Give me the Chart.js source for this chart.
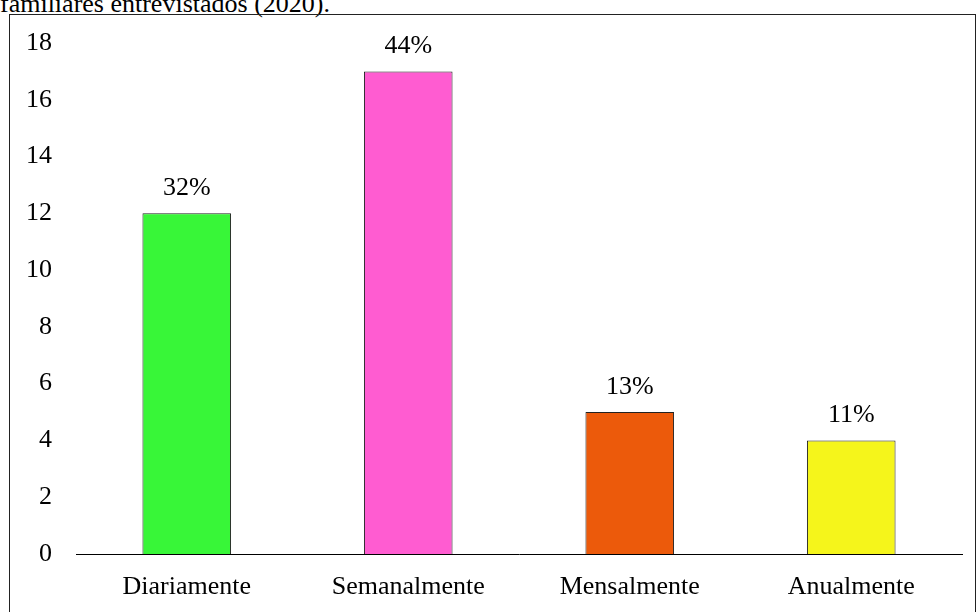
<!DOCTYPE html>
<html>
<head>
<meta charset="utf-8">
<script src="https://cdn.jsdelivr.net/npm/chart.js@4"></script>
<style>
  body { margin: 0; background: #fff; overflow: hidden; }
  #page { position: relative; width: 976px; height: 612px; overflow: hidden; }
  #caption {
    position: absolute; left: 0; top: -11px; line-height: 26px;
    font: 26px "Liberation Serif", serif; color: #000; white-space: nowrap;
  }
  #frame {
    position: absolute; left: 9px; top: 14px; width: 965px; height: 620px;
    border: 1px solid #222;
  }
  #chart { position: absolute; left: 0; top: 0; }
</style>
</head>
<body>
<div id="page">
  <div id="caption">familiares entrevistados (2020).</div>
  <div id="frame"></div>
  <canvas id="chart" width="976" height="612"></canvas>
</div>
<script>
// categorias e valores
const categorias = ['Diariamente', 'Semanalmente', 'Mensalmente', 'Anualmente'];
const valores = [12, 17, 5, 4];
const percentuais = ['32%', '44%', '13%', '11%'];
const cores = ['#38F638', '#FF5CD1', '#EC5A0B', '#F5F51B'];

// rótulos de porcentagem em cima das barras
const rotulos = {
  id: 'rotulos',
  afterDatasetsDraw(chart) {
    const ctx = chart.ctx;
    const meta = chart.getDatasetMeta(0);
    ctx.save();
    ctx.font = '26px "Liberation Serif", serif';
    ctx.fillStyle = '#000';
    ctx.textAlign = 'center';
    ctx.textBaseline = 'alphabetic';
    meta.data.forEach(function (bar, i) {
      ctx.fillText(percentuais[i], bar.x, bar.y - 18);
    });
    ctx.restore();
  }
};

const ctx = document.getElementById('chart').getContext('2d');
new Chart(ctx, {
  type: 'bar',
  data: {
    labels: categorias,
    datasets: [{
      data: valores,
      backgroundColor: cores,
      borderColor: '#222',
      borderWidth: 1,
      barPercentage: 0.4,
      categoryPercentage: 1
    }]
  },
  options: {
    responsive: false,
    animation: false,
    layout: { padding: { top: 43, right: 14, left: 0, bottom: 0 } },
    plugins: {
      legend: { display: false },
      tooltip: { enabled: false }
    },
    scales: {
      x: {
        grid: { display: false },
        border: { display: true, color: '#000', width: 1 },
        ticks: {
          color: '#000',
          padding: 10,
          font: { family: 'Liberation Serif', size: 26 }
        },
        afterFit: function (scale) { scale.height = 58; }
      },
      y: {
        min: 0,
        max: 18,
        grid: { display: false },
        border: { display: false },
        ticks: {
          stepSize: 2,
          color: '#000',
          padding: 16,
          font: { family: 'Liberation Serif', size: 26 }
        },
        afterFit: function (scale) { scale.width = 76; }
      }
    }
  },
  plugins: [rotulos]
});
</script>
</body>
</html>
